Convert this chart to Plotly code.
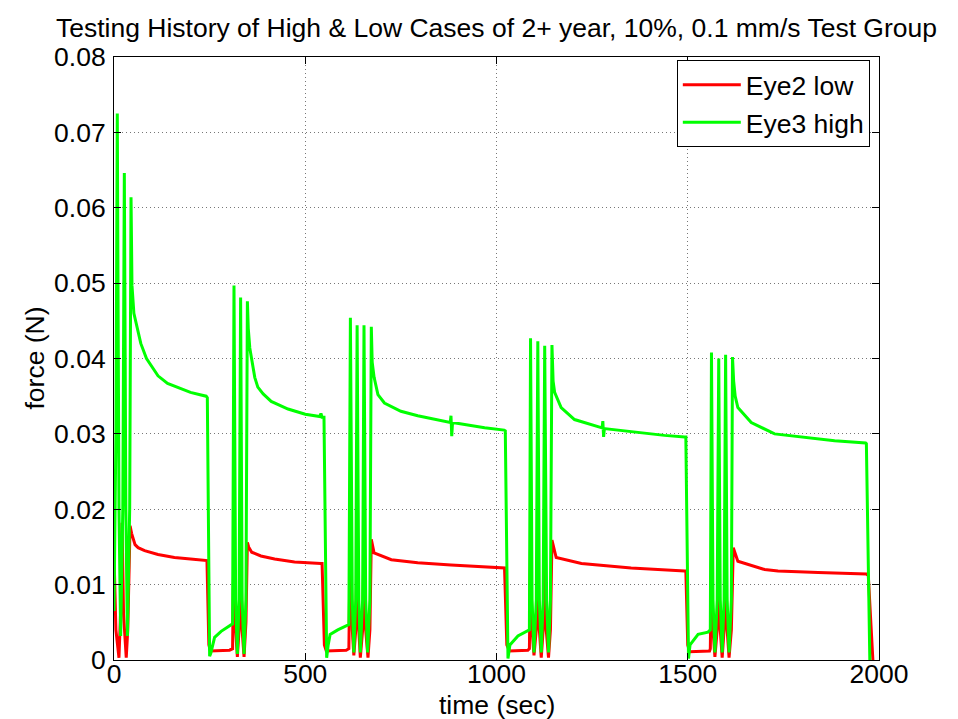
import plotly.graph_objects as go

# ---- Data ----
# Eye2 low (red)
eye2_time = [
    0, 1, 5, 10, 13, 17, 21, 25, 32, 36, 42, 46, 55, 63, 80, 115, 158, 200, 240, 243, 248, 252, 302,
    310, 313.7, 318, 322.5, 327, 331, 335, 340, 345, 348.7, 352, 360, 384, 420, 472, 541, 544, 550, 555, 607,
    614, 618, 623, 627, 632, 635.6, 640, 644, 650, 653.6, 658, 664, 669, 672.7, 676, 680, 725, 794, 881, 1017, 1021, 1027, 1034, 1082,
    1086, 1089, 1093, 1098, 1104, 1108, 1112, 1117, 1122, 1126, 1130, 1136, 1141, 1145, 1150, 1156, 1222, 1352, 1492, 1495, 1500, 1505, 1557,
    1559, 1562, 1566, 1571, 1577, 1581, 1585, 1590, 1595, 1599, 1603, 1608, 1614, 1619, 1624, 1631, 1701, 1736, 1841, 1967, 1972, 1978, 1984,
]
eye2_force = [
    0.0195, 0.012, 0.004, 0.001, 0.0003, 0.006, 0.0182, 0.006, 0.0003, 0.004, 0.0178, 0.0168, 0.0153, 0.0149, 0.0145, 0.014, 0.0136, 0.0134, 0.0132, 0.0132, 0.002, 0.0012, 0.0013,
    0.0015, 0.0165, 0.004, 0.0004, 0.004, 0.0167, 0.004, 0.0004, 0.005, 0.0156, 0.015, 0.0143, 0.0138, 0.0134, 0.013, 0.0128, 0.0128, 0.002, 0.0012, 0.0013,
    0.0015, 0.0173, 0.004, 0.0006, 0.004, 0.016, 0.004, 0.0003, 0.004, 0.0158, 0.004, 0.0003, 0.004, 0.016, 0.0152, 0.0142, 0.0133, 0.0129, 0.0126, 0.0122, 0.0122, 0.002, 0.0012, 0.0013,
    0.0015, 0.0155, 0.004, 0.0006, 0.004, 0.0153, 0.004, 0.0003, 0.004, 0.015, 0.004, 0.0003, 0.004, 0.0159, 0.015, 0.0136, 0.0128, 0.0122, 0.0118, 0.0118, 0.002, 0.0011, 0.0012,
    0.0015, 0.0135, 0.004, 0.0004, 0.004, 0.013, 0.004, 0.0003, 0.004, 0.0145, 0.004, 0.0003, 0.004, 0.0149, 0.014, 0.0131, 0.012, 0.0118, 0.0116, 0.0114, 0.0112, 0.006, 0.0,
]

# Eye3 high (green)
eye3_time = [
    0, 5, 8.6, 13, 17.4, 23, 27, 31, 35, 41, 44.5, 47, 52, 58, 70, 85, 100, 115, 140, 168, 200, 225, 241, 244, 250, 253, 263, 280, 302,
    310, 313.7, 318, 322.5, 327, 331, 335, 340, 345, 348.7, 351, 355, 362, 368, 376, 390, 411, 455, 500, 538, 541, 544, 549, 556, 560, 565, 585, 607,
    614, 618, 623, 627, 632, 635.6, 640, 644, 650, 653.6, 658, 663, 669, 672.7, 675, 680, 690, 707, 750, 794, 879, 881, 883, 885, 969, 1020, 1023, 1030, 1035, 1056, 1082,
    1086, 1089, 1093, 1098, 1104, 1108, 1112, 1117, 1122, 1126, 1131, 1136, 1141, 1145, 1148, 1152, 1169, 1204, 1265, 1276, 1278, 1280, 1282, 1352, 1439, 1492, 1495, 1502, 1506, 1527, 1553,
    1559, 1562, 1566, 1571, 1577, 1581, 1585, 1590, 1595, 1599, 1603, 1608, 1614, 1617, 1620, 1624, 1631, 1666, 1727, 1797, 1884, 1965, 1967, 1976,
]
eye3_force = [
    0.0065, 0.03, 0.0725, 0.02, 0.0032, 0.02, 0.0646, 0.02, 0.0032, 0.02, 0.0614, 0.0497, 0.046, 0.0445, 0.042, 0.040, 0.0388, 0.0377, 0.0367, 0.0361, 0.0355, 0.0352, 0.035, 0.0348, 0.0005, 0.0009, 0.003, 0.0038, 0.0046,
    0.0048, 0.0497, 0.008, 0.0008, 0.008, 0.0481, 0.008, 0.0008, 0.008, 0.0476, 0.044, 0.0414, 0.039, 0.0375, 0.0362, 0.0353, 0.0343, 0.0333, 0.0326, 0.0323, 0.0327, 0.0322, 0.0322, 0.0003, 0.002, 0.0034, 0.004, 0.0045,
    0.0047, 0.0454, 0.008, 0.001, 0.008, 0.0444, 0.008, 0.001, 0.008, 0.0444, 0.008, 0.001, 0.008, 0.0442, 0.0395, 0.0375, 0.0352, 0.0341, 0.033, 0.0324, 0.0315, 0.0324, 0.0297, 0.0315, 0.0308, 0.0305, 0.0304, 0.0002, 0.002, 0.0032, 0.0038,
    0.004, 0.0427, 0.008, 0.001, 0.008, 0.0423, 0.008, 0.001, 0.008, 0.0417, 0.008, 0.001, 0.008, 0.0418, 0.037, 0.0355, 0.0335, 0.0319, 0.031, 0.0308, 0.0317, 0.0296, 0.0307, 0.0303, 0.0298, 0.0296, 0.0296, 0.0002, 0.002, 0.0034, 0.0037,
    0.004, 0.0408, 0.008, 0.001, 0.008, 0.040, 0.008, 0.001, 0.008, 0.0405, 0.008, 0.001, 0.008, 0.0402, 0.037, 0.035, 0.0335, 0.0315, 0.030, 0.0296, 0.0291, 0.0288, 0.0287, 0.0,
]

x_ticks = [0, 500, 1000, 1500, 2000]
y_ticks = [0, 0.01, 0.02, 0.03, 0.04, 0.05, 0.06, 0.07, 0.08]
y_tick_labels = ["0", "0.01", "0.02", "0.03", "0.04", "0.05", "0.06", "0.07", "0.08"]

FONT = "Liberation Sans, Arial, Helvetica, sans-serif"
SIZE = 26.5

fig = go.Figure()
fig.add_trace(go.Scatter(x=eye2_time, y=eye2_force, mode="lines", name="Eye2 low",
                         line=dict(color="#ff0000", width=3)))
fig.add_trace(go.Scatter(x=eye3_time, y=eye3_force, mode="lines", name="Eye3 high",
                         line=dict(color="#00ff00", width=3)))

axis_common = dict(
    showline=True, linecolor="black", linewidth=1, mirror="allticks",
    ticks="inside", ticklen=7, tickcolor="black", tickwidth=1,
    showgrid=True, gridcolor="#777777", gridwidth=1, griddash="1px,3px",
    zeroline=False, tickfont=dict(family=FONT, size=SIZE, color="black"),
)

fig.update_layout(
    width=958, height=719,
    margin=dict(l=106, r=87, t=49, b=67),
    paper_bgcolor="white", plot_bgcolor="white",
    font=dict(family=FONT, size=SIZE, color="black"),
    title=dict(text="Testing History of High &amp; Low Cases of 2+ year, 10%, 0.1 mm/s Test Group",
               x=0.5, xref="paper", xanchor="center", y=1 - 20 / 719, yref="container", yanchor="middle",
               font=dict(family=FONT, size=SIZE, color="black")),
    xaxis=dict(range=[0, 2000], tickvals=x_ticks, ticklabelstandoff=-10, **axis_common),
    yaxis=dict(range=[0, 0.08], tickvals=y_ticks, ticktext=y_tick_labels, ticklabelstandoff=2,
               **axis_common),
    legend=dict(x=0.988, xanchor="right", y=(652 - 52) / 603, yanchor="top",
                bgcolor="white", bordercolor="black", borderwidth=1, itemwidth=58,
                font=dict(family=FONT, size=SIZE, color="black"), tracegroupgap=0),
    showlegend=True,
    annotations=[
        dict(text="time (sec)", xref="paper", yref="paper", x=0.5, y=(652 - 697) / 603,
             xanchor="center", yanchor="middle", showarrow=False,
             font=dict(family=FONT, size=SIZE, color="black")),
        dict(text="force (N)", xref="paper", yref="paper", x=(26 - 106) / 765, y=0.5,
             xanchor="center", yanchor="middle", textangle=-90, showarrow=False,
             font=dict(family=FONT, size=SIZE, color="black")),
    ],
)

fig.write_html("out.html")
